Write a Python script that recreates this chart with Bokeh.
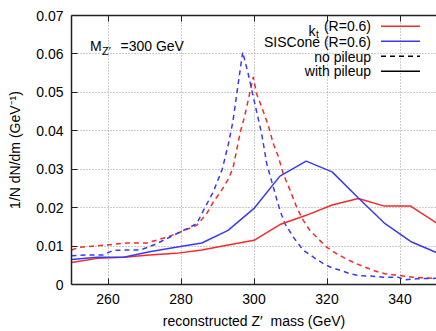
from bokeh.plotting import figure
from bokeh.models import FixedTicker, LinearAxis, Label, Range1d, Arrow
from bokeh.embed import file_html
from bokeh.resources import INLINE

# ---- data ----
mass_bins = [250, 257.1, 264.3, 271.4, 278.6, 285.7, 292.9, 300, 307.1, 314.3, 321.4, 328.6, 335.7, 342.9, 350]
kt_pileup = [0.0057, 0.0068, 0.0071, 0.0077, 0.0081, 0.0090, 0.0103, 0.0115, 0.0156, 0.0180, 0.0207, 0.0224, 0.0204, 0.0204, 0.0160]
sis_pileup = [0.0065, 0.0071, 0.0071, 0.0085, 0.0097, 0.0108, 0.0141, 0.0198, 0.0282, 0.0321, 0.0293, 0.0225, 0.0160, 0.0112, 0.0083]

kt_nopu_m = [250, 252.3, 258.7, 265.1, 270.6, 276.1, 279.7, 284.3, 287, 288.8, 291.1, 293, 294.3, 296.2, 297.5,
             299.8, 300.7, 302.1, 303.9, 305.3, 306.7, 308, 309.9, 311.7, 313.5, 315.3, 317.6, 319.9, 322.7,
             325.4, 328.1, 330.4, 333.2, 335.9, 338.6, 340.9, 343.6, 347.3, 350]
kt_nopu = [0.0090, 0.0097, 0.0102, 0.0108, 0.0108, 0.0123, 0.0136, 0.0154, 0.0184, 0.0214, 0.0245, 0.0275, 0.0305,
           0.0395, 0.0440, 0.0540, 0.0497, 0.0462, 0.0414, 0.0366, 0.0332, 0.0288, 0.0245, 0.0201, 0.0167, 0.0141,
           0.0119, 0.0097, 0.0080, 0.0066, 0.0054, 0.0045, 0.0035, 0.0028, 0.0025, 0.0022, 0.0019, 0.0017, 0.0016]

sis_nopu_m = [250, 254, 258.7, 261.5, 266, 269, 273.3, 277.9, 281.6, 284.3, 286.6, 288.8, 291.3, 293, 294.2, 296.9,
              298.4, 300, 302.1, 303.5, 305.3, 307.1, 308.5, 310.8, 313.5, 316.3, 319, 321, 323.6, 326.3, 329,
              332, 335.4, 339.5, 341.4, 344.6, 350]
sis_nopu = [0.0075, 0.0077, 0.0077, 0.0089, 0.0090, 0.0090, 0.0106, 0.0128, 0.0145, 0.0158, 0.0201, 0.0240, 0.0300,
            0.0366, 0.0423, 0.0605, 0.0549, 0.0480, 0.0392, 0.0314, 0.0253, 0.0193, 0.0158, 0.0123, 0.0089, 0.0071,
            0.0054, 0.0045, 0.0037, 0.0028, 0.0023, 0.0022, 0.0019, 0.0019, 0.0012, 0.0015, 0.0016]

x_ticks = [260, 280, 300, 320, 340]
y_ticks = [0, 0.01, 0.02, 0.03, 0.04, 0.05, 0.06, 0.07]
y_tick_labels = ["0", "0.01", "0.02", "0.03", "0.04", "0.05", "0.06", "0.07"]

RED = "#f42a2a"
BLUE = "#3a3af0"
FONT = "Liberation Sans"

p = figure(width=436, height=331, output_backend="svg", toolbar_location=None,
           x_range=Range1d(250, 350), y_range=Range1d(0, 0.07),
           min_border_left=71, min_border_right=0, min_border_top=15, min_border_bottom=47)
p.background_fill_color = "white"
p.border_fill_color = "white"
p.outline_line_color = None

for ax in (p.xaxis[0], p.yaxis[0]):
    ax.axis_line_width = 1.5
    ax.axis_line_color = "#222222"
    ax.major_tick_in = 6
    ax.major_tick_out = 0
    ax.minor_tick_line_color = None
    ax.major_tick_line_color = "#222222"
    ax.major_label_text_font = FONT
    ax.major_label_text_font_size = "14px"
    ax.major_label_text_color = "black"
    ax.axis_label_text_font = FONT
    ax.axis_label_text_font_size = "14px"
    ax.axis_label_text_font_style = "normal"
    ax.axis_label_text_color = "black"

p.xaxis[0].ticker = FixedTicker(ticks=x_ticks)
p.yaxis[0].ticker = FixedTicker(ticks=y_ticks)
p.yaxis[0].major_label_overrides = {t: l for t, l in zip(y_ticks, y_tick_labels)}
p.xaxis[0].axis_label = "reconstructed Z\u2032\u00a0 mass (GeV)"
p.yaxis[0].axis_label = "1/N dN/dm (GeV\u207b\u00b9)"
p.xaxis[0].major_label_standoff = 9
p.xaxis[0].axis_label_standoff = 6
p.yaxis[0].major_label_standoff = 8
p.yaxis[0].axis_label_standoff = 10

top = LinearAxis(ticker=FixedTicker(ticks=x_ticks), major_label_text_font_size="0px",
                 major_label_standoff=0, major_tick_in=6, major_tick_out=0,
                 minor_tick_line_color=None, axis_line_width=1.5, axis_line_color="#222222",
                 major_tick_line_color="#222222")
top.major_label_overrides = {t: "" for t in x_ticks}
p.add_layout(top, "above")

p.xgrid.ticker = FixedTicker(ticks=x_ticks)
p.ygrid.ticker = FixedTicker(ticks=y_ticks)
for g in (p.xgrid[0], p.ygrid[0]):
    g.grid_line_color = "#9a9a9a"
    g.grid_line_dash = "1 2"
    g.grid_line_width = 1

# data lines
p.line(kt_nopu_m, kt_nopu, line_color=RED, line_width=1.5, line_dash="5 4")
p.line(sis_nopu_m, sis_nopu, line_color=BLUE, line_width=1.5, line_dash="5 4")
p.line(mass_bins, kt_pileup, line_color=RED, line_width=1.5)
p.line(mass_bins, sis_pileup, line_color=BLUE, line_width=1.5)

# helpers: pixel -> data for annotation placement
def mx(px):
    return 250 + (px - 71.5) / 3.65

def vy(py):
    return (284 - py) / 3840.0

def lab(text, px, py, size="14px", align="left", baseline="middle"):
    p.add_layout(Label(x=mx(px), y=vy(py), text=text, text_font=FONT, text_font_size=size,
                       text_align=align, text_baseline=baseline, text_color="black"))

# M_Z' annotation
lab("M", 90, 45.5, baseline="alphabetic")
lab("Z\u2032", 102, 50.5, size="11px", baseline="alphabetic")
lab("=300 GeV", 120.5, 45.5, baseline="alphabetic")

# legend (text right-aligned, sample on the right)
lab("k", 308.5, 31, baseline="alphabetic")
lab("t", 316, 34.5, size="10px", baseline="alphabetic")
lab("(R=0.6)", 371, 26, align="right")
lab("SISCone (R=0.6)", 371, 41.5, align="right")
lab("no pileup", 371, 56.5, align="right")
lab("with pileup", 371, 71, align="right")

samples = [(26, RED, "solid"), (41, BLUE, "solid"), (56, "black", "5 4"), (71, "black", "solid")]
for py, col, dash in samples:
    p.add_layout(Arrow(x_start=mx(381), y_start=vy(py), x_end=mx(420), y_end=vy(py),
                       start=None, end=None, line_color=col, line_width=1.5, line_dash=dash))

open("out.html", "w").write(file_html(p, INLINE))
